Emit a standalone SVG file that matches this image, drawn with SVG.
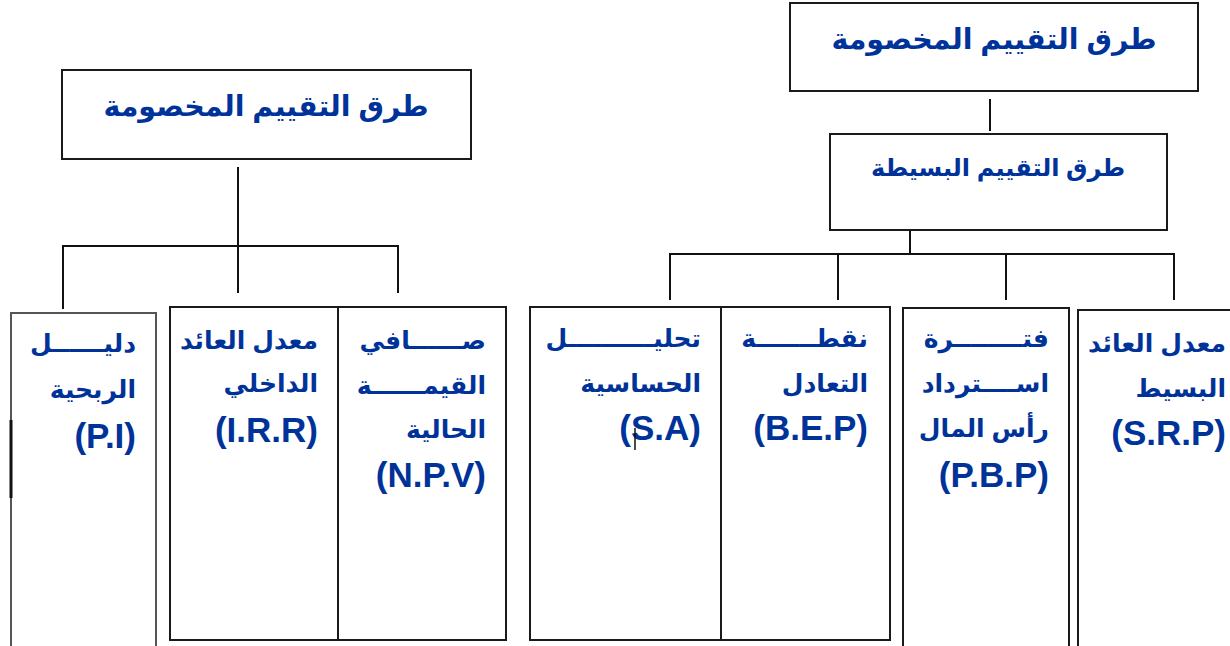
<svg xmlns="http://www.w3.org/2000/svg" width="1230" height="646" viewBox="0 0 1230 646">
<style>
.box{fill:#fff;stroke:#1a1a1a;stroke-width:2}
.ln{stroke:#111;stroke-width:2;fill:none}
.ar{font-family:"Liberation Sans","DejaVu Sans",sans-serif;font-weight:bold;font-size:25px;fill:#003399;text-anchor:end}
.arc{font-family:"Liberation Sans","DejaVu Sans",sans-serif;font-weight:bold;font-size:28.5px;fill:#003399;text-anchor:middle}
.la{font-family:"Liberation Sans",Arial,sans-serif;font-weight:bold;font-size:35px;fill:#003399;text-anchor:end}
</style>
<rect width="1230" height="646" fill="#fff"/>
<g id="connectors">
<line class="ln" x1="238" y1="167" x2="238" y2="293"/>
<line class="ln" x1="62" y1="246" x2="399" y2="246"/>
<line class="ln" x1="63" y1="246" x2="63" y2="309"/>
<line class="ln" x1="398" y1="246" x2="398" y2="293"/>
<line class="ln" x1="990" y1="99" x2="990" y2="131"/>
<line class="ln" x1="910" y1="230" x2="910" y2="254"/>
<line class="ln" x1="669" y1="254" x2="1175" y2="254"/>
<line class="ln" x1="670" y1="254" x2="670" y2="300"/>
<line class="ln" x1="838" y1="254" x2="838" y2="300"/>
<line class="ln" x1="1006" y1="254" x2="1006" y2="300"/>
<line class="ln" x1="1174" y1="254" x2="1174" y2="300"/>
</g>
<g id="left-root">
<rect class="box" x="62" y="70" width="409" height="89"/>
<text class="arc" x="266" y="116">طرق التقييم المخصومة</text>
</g>
<g id="right-root">
<rect class="box" x="790" y="3" width="408" height="88"/>
<text class="arc" x="994" y="49">طرق التقييم المخصومة</text>
</g>
<g id="simple">
<rect class="box" x="830" y="134" width="337" height="96"/>
<text class="arc" x="998" y="176" style="font-size:24px">طرق التقييم البسيطة</text>
</g>
<g id="pi">
<rect class="box" x="11" y="313" width="145" height="340" style="stroke:#555"/>
<line x1="11" y1="420" x2="11" y2="498" stroke="#111" stroke-width="3"/>
<text class="ar" x="136" y="352">دليــــــل</text>
<text class="ar" x="136" y="398">الربحية</text>
<text class="la" x="136" y="448">(P.I)</text>
</g>
<g id="irr">
<rect class="box" x="170" y="307" width="168" height="333"/>
<text class="ar" x="318" y="349">معدل العائد</text>
<text class="ar" x="318" y="392">الداخلي</text>
<text class="la" x="318" y="442">(I.R.R)</text>
</g>
<g id="npv">
<rect class="box" x="338" y="307" width="168" height="333"/>
<text class="ar" x="486" y="349">صــــــافي</text>
<text class="ar" x="486" y="394">القيمــــــة</text>
<text class="ar" x="486" y="438">الحالية</text>
<text class="la" x="486" y="487">(N.P.V)</text>
</g>
<g id="sa">
<rect class="box" x="530" y="307" width="191" height="333"/>
<text class="ar" x="701" y="347">تحليــــــــــل</text>
<text class="ar" x="701" y="392">الحساسية</text>
<text class="la" x="701" y="440">(S.A)</text>
<line x1="635" y1="428" x2="635" y2="450" stroke="#111" stroke-width="1.5"/>
</g>
<g id="bep">
<rect class="box" x="721" y="307" width="169" height="333"/>
<text class="ar" x="868" y="347">نقطـــــــة</text>
<text class="ar" x="868" y="392">التعادل</text>
<text class="la" x="868" y="440">(B.E.P)</text>
</g>
<g id="pbp">
<rect class="box" x="903" y="308" width="166" height="345"/>
<text class="ar" x="1049" y="347">فتــــــــرة</text>
<text class="ar" x="1049" y="392">اســــترداد</text>
<text class="ar" x="1049" y="437">رأس المال</text>
<text class="la" x="1049" y="487">(P.B.P)</text>
</g>
<g id="srp">
<rect class="box" x="1078" y="310" width="160" height="345"/>
<text class="ar" x="1226" y="352">معدل العائد</text>
<text class="ar" x="1226" y="397">البسيط</text>
<text class="la" x="1226" y="445">(S.R.P)</text>
</g>
</svg>
